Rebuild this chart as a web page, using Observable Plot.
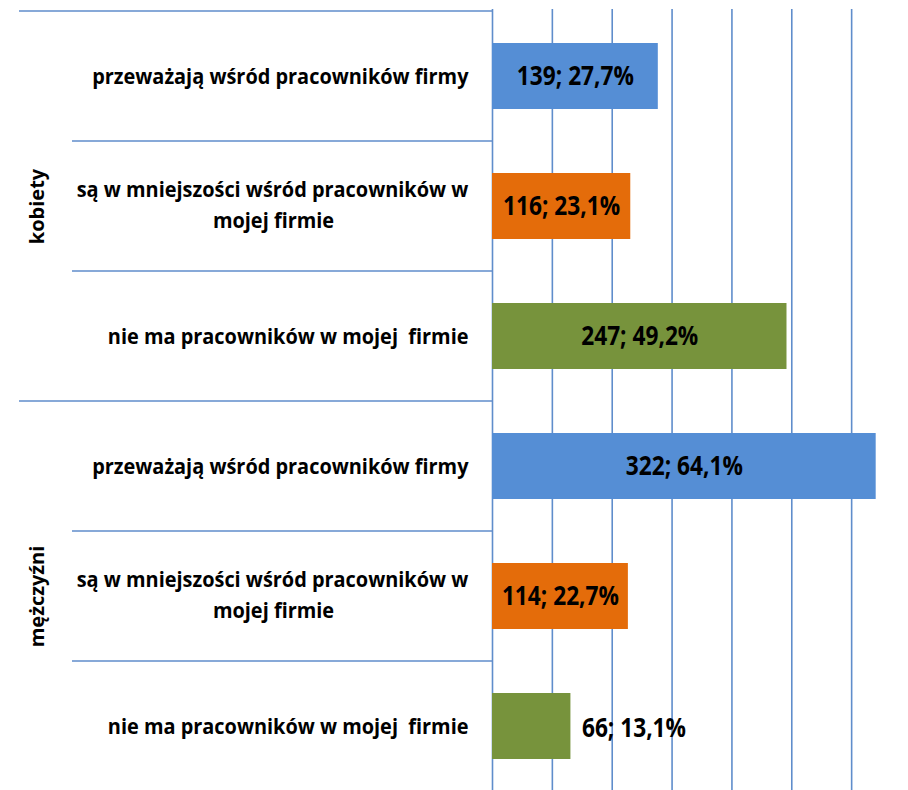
<!DOCTYPE html>
<html><head><meta charset="utf-8">
<script src="https://cdn.jsdelivr.net/npm/d3@7"></script>
<script src="https://cdn.jsdelivr.net/npm/@observablehq/plot@0.6"></script>
<style>
html,body{margin:0;padding:0;background:#fff;overflow:hidden}
#chart svg text{white-space:pre}
</style></head><body><div id="chart"></div>
<script>
const rowKeys = ["k1","k2","k3","m1","m2","m3"];
const groupNames = ["kobiety","mężczyźni"];
const rowGroups = ["kobiety","kobiety","kobiety","mężczyźni","mężczyźni","mężczyźni"];
const categoryNames = ["przeważają wśród pracowników firmy","są w mniejszości wśród pracowników w\nmojej firmie","nie ma pracowników w mojej  firmie"];
const rowCategories = [0,1,2,0,1,2];
const counts = [139,116,247,322,114,66];
const percents = [27.7,23.1,49.2,64.1,22.7,13.1];
const categoryColors = ["#558ED5","#E46C0A","#77933C"];
const xTicks = [0,10,20,30,40,50,60];

const lineColor = "#5F8DCB";
const font = "'Open Sans',sans-serif";
const CAT_SIZE = 22, BAR_SIZE = 27, GROUP_SIZE = 20;
const squeeze = {[CAT_SIZE]: 0.905, [BAR_SIZE]: 0.84};

const rows = rowKeys.map((key,i)=>{
  const name = categoryNames[rowCategories[i]];
  const lines = name.split("\n");
  return {key, group: rowGroups[i], category: name, lines,
    count: counts[i], pct: percents[i],
    label: `${counts[i]}; ${percents[i].toFixed(1).replace(".",",")}%`};
});
const oneLine = rows.filter(d => d.lines.length === 1);
const twoLine = rows.filter(d => d.lines.length === 2);
const groupLabels = groupNames.map(g => ({group: g, key: rowKeys[rowGroups.indexOf(g)+1]}));

function separators(index, scales, values, dims) {
  const y = scales.y;
  const step = y.step(), bw = y.bandwidth();
  const g = d3.create("svg:g").attr("stroke", lineColor).attr("stroke-width", 1.6);
  rowKeys.forEach((k,i) => {
    const top = y(k) + bw/2 - step/2;
    const groupStart = i === 0 || rowGroups[i] !== rowGroups[i-1];
    g.append("line").attr("x1", groupStart ? 19 : 72).attr("x2", dims.marginLeft)
      .attr("y1", top).attr("y2", top);
  });
  const last = rowKeys[rowKeys.length-1];
  const bottom = y(last) + bw/2 + step/2;
  g.append("line").attr("x1", 19).attr("x2", dims.marginLeft).attr("y1", bottom).attr("y2", bottom);
  return g.node();
}

const catText = {fontSize: CAT_SIZE, fontWeight: "bold", fill: "#000", frameAnchor: "left"};
const barText = {fontSize: BAR_SIZE, fontWeight: "bold", fill: "#000"};

const chart = Plot.plot({
  width: 908, height: 790,
  marginLeft: 492, marginRight: 0, marginTop: 9, marginBottom: 0,
  style: {fontFamily: font, background: "#fff", overflow: "hidden"},
  x: {domain: [0,70], range: [492, 911], axis: null},
  y: {domain: rowKeys, range: [9, 794], paddingInner: 0.49, paddingOuter: 0.245, axis: null},
  color: {domain: categoryNames, range: categoryColors},
  marks: [
    Plot.ruleX(xTicks, {stroke: lineColor, strokeWidth: 1.6}),
    separators,
    Plot.barX(rows, {y: "key", x: "pct", fill: "category"}),
    Plot.text(rows.filter(d => d.pct >= 20), {x: d => d.pct/2, y: "key", text: "label", dy: 0, ...barText}),
    Plot.text(rows.filter(d => d.pct < 20), {x: "pct", y: "key", text: "label", textAnchor: "start", dx: 11, dy: 1.5, ...barText}),
    Plot.text(oneLine, {y: "key", text: d => d.lines[0], textAnchor: "end", dx: -24, dy: 0, ...catText}),
    Plot.text(twoLine, {y: "key", text: d => d.lines[0], textAnchor: "middle", dx: -220, dy: -17, ...catText}),
    Plot.text(twoLine, {y: "key", text: d => d.lines[1], textAnchor: "middle", dx: -219, dy: 14.5, ...catText}),
    Plot.text(groupLabels, {y: "key", text: "group", frameAnchor: "left", textAnchor: "middle", dx: -455, rotate: -90, fontSize: GROUP_SIZE, fontWeight: "bold", fill: "#000"})
  ]
});
document.getElementById("chart").append(chart);

// narrow the glyphs slightly, as in the reference's condensed lettering
chart.querySelectorAll("text").forEach(t => {
  const fs = parseFloat(getComputedStyle(t).fontSize);
  const k = squeeze[fs];
  if (!k) return;
  const w = t.getComputedTextLength();
  t.setAttribute("textLength", (w * k).toFixed(1));
  t.setAttribute("lengthAdjust", "spacingAndGlyphs");
});
</script></body></html>
